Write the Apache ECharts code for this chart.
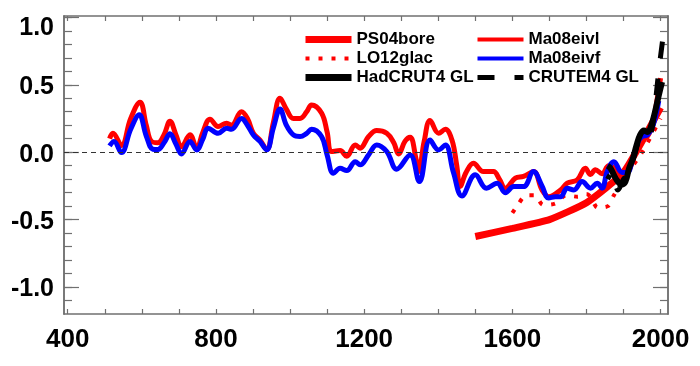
<!DOCTYPE html>
<html>
<head>
<meta charset="utf-8">
<script src="https://cdn.jsdelivr.net/npm/echarts@6/dist/echarts.min.js"></script>
<style>html,body{margin:0;padding:0;background:#fff}#c{width:700px;height:366px}</style>
</head>
<body>
<div id="c"></div>
<script>
// ---- data ----
const ma08eivlYears = [513,522,545,570,595,612,626,643,660,676,692,707,730,748,765,784,806,829,842,869,885,901,919,937,955,973,990,1009,1027,1045,1058,1085,1100,1112,1135,1153,1176,1189,1212,1234,1261,1280,1293,1310,1324,1340,1347,1362,1378,1401,1419,1437,1450,1459,1475,1495,1522,1549,1565,1581,1608,1630,1657,1680,1698,1730,1748,1775,1797,1811,1824,1842,1860,1875,1890,1905,1920,1935,1950,1965,1980,1990,2000];
const ma08eivlVals  = [0.10,0.14,0.05,0.25,0.37,0.20,0.08,0.07,0.13,0.23,0.13,0.04,0.13,0.03,0.15,0.245,0.19,0.215,0.20,0.30,0.25,0.14,0.09,0.02,0.22,0.40,0.32,0.25,0.25,0.30,0.35,0.29,0.15,0.005,0.012,-0.03,0.054,0.03,0.116,0.16,0.14,0.07,-0.013,0.08,0.11,-0.05,-0.144,0.08,0.235,0.14,0.17,0.09,-0.10,-0.255,-0.15,-0.082,-0.144,-0.144,-0.20,-0.267,-0.193,-0.18,-0.144,-0.28,-0.33,-0.28,-0.23,-0.205,-0.12,-0.165,-0.13,-0.16,-0.10,-0.12,-0.20,-0.18,-0.10,0.02,0.10,0.12,0.22,0.38,0.55];

const ma08eivfYears = [513,525,545,570,593,612,630,643,660,676,692,707,730,748,765,779,806,829,842,869,885,901,919,937,955,973,990,1009,1027,1045,1058,1085,1100,1117,1135,1153,1176,1189,1212,1234,1261,1288,1324,1349,1378,1401,1419,1441,1464,1500,1530,1559,1581,1604,1630,1657,1680,1698,1716,1730,1748,1766,1788,1811,1829,1842,1856,1874,1896,1910,1925,1940,1950,1965,1980,1995];
const ma08eivfVals  = [0.047,0.08,-0.003,0.17,0.277,0.12,0.022,0.02,0.07,0.136,0.06,-0.013,0.08,0.017,0.10,0.178,0.14,0.178,0.17,0.25,0.20,0.128,0.08,0.017,0.18,0.32,0.20,0.128,0.116,0.14,0.17,0.116,-0.02,-0.156,-0.119,-0.136,-0.07,-0.094,-0.02,0.054,0.005,-0.126,-0.02,-0.218,0.09,0.017,0.054,-0.15,-0.324,-0.168,-0.267,-0.23,-0.30,-0.255,-0.255,-0.144,-0.25,-0.34,-0.33,-0.33,-0.267,-0.28,-0.218,-0.267,-0.23,-0.267,-0.144,-0.07,-0.15,-0.15,-0.05,0.08,0.116,0.13,0.20,0.38];

const ps04boreYears = [1500,1600,1700,1800,1900,2000];
const ps04boreVals  = [-0.625,-0.565,-0.50,-0.375,-0.15,0.33];

const lo12glacYears = [1600,1615,1637,1660,1683,1716,1745,1776,1800,1811,1830,1858,1874,1900,1950,2000];
const lo12glacVals  = [-0.45,-0.39,-0.32,-0.32,-0.39,-0.38,-0.32,-0.33,-0.31,-0.33,-0.41,-0.40,-0.32,-0.20,0.00,0.25];

const hadcrutYears = [1857,1865,1880,1895,1905,1915,1925,1935,1945,1955,1965,1975,1985,1995,2004];
const hadcrutVals  = [-0.10,-0.12,-0.20,-0.24,-0.22,-0.12,-0.05,0.05,0.13,0.16,0.15,0.20,0.30,0.42,0.52];

// listed from the latest year back, so the dash pattern starts at the recent end
const crutemYears = [2005,1995,1985,1975,1960,1945,1930,1915,1900,1885,1870,1857];
const crutemVals  = [0.82,0.60,0.35,0.15,0.08,0.08,-0.02,-0.15,-0.20,-0.28,-0.15,-0.20];

const xTickValues  = [400,500,600,700,800,900,1000,1100,1200,1300,1400,1500,1600,1700,1800,1900,2000];
const xLabelValues = [400,800,1200,1600,2000];
const yMinorTicks  = [-1.1,-1.0,-0.9,-0.8,-0.7,-0.6,-0.5,-0.4,-0.3,-0.2,-0.1,0,0.1,0.2,0.3,0.4,0.5,0.6,0.7,0.8,0.9,1.0];
const yLabelValues = [-1.0,-0.5,0.0,0.5,1.0];

// ---- chart ----
function pairs(xs, ys){ return xs.map((x,i)=>[x, ys[i]]); }
const FONT = '"Liberation Sans", Arial, Helvetica, sans-serif';
const AX = '#707070';
const chart = echarts.init(document.getElementById('c'), null, {renderer:'canvas'});

function yAx(pos, major){
  return {
    type:'value', position: pos, min:-1.2, max:1.01,
    axisLine:{show:true, onZero:false, lineStyle:{color:AX, width:1.5}},
    splitLine:{show:false},
    axisTick:{show:true, inside:true, length: major?15:8, customValues: major?yLabelValues:yMinorTicks, lineStyle:{color:AX, width:1.2}},
    axisLabel:{show: major && pos==='left', customValues: yLabelValues, margin:10,
      formatter: v => (Math.abs(v-1) < 1e-6 ? '{top|' : '{n|') + v.toFixed(1) + '}',
      rich:{
        n:{fontFamily:FONT, fontWeight:'bold', fontSize:25, color:'#000', padding:[5,0,0,0]},
        top:{fontFamily:FONT, fontWeight:'bold', fontSize:25, color:'#000', padding:[22,0,0,0]}
      }}
  };
}
function xAx(pos){
  return {
    type:'value', position: pos, min:390, max:2020,
    axisLine:{show:true, onZero:false, lineStyle:{color:AX, width:1.5}},
    splitLine:{show:false},
    axisTick:{show:true, inside:true, length:5, customValues:xTickValues, lineStyle:{color:AX, width:1.2}},
    axisLabel:{show: pos==='bottom', customValues:xLabelValues, margin:13, formatter: v => String(v),
      fontFamily:FONT, fontWeight:'bold', fontSize:26, color:'#000'}
  };
}

const legendText = {fontFamily:FONT, fontWeight:'bold', fontSize:17, color:'#000', lineHeight:19};
const hide = {opacity:0, borderWidth:0};

chart.setOption({
  animation:false,
  backgroundColor:'#fff',
  grid:{left:64, right:32, top:16, bottom:52},
  xAxis:[xAx('bottom'), xAx('top')],
  yAxis:[yAx('left',false), yAx('left',true), yAx('right',false), yAx('right',true)],
  legend:[
    {left:297, top:25, padding:5, orient:'vertical', itemWidth:46, itemHeight:8, itemGap:0, textStyle:legendText,
     data:[
       {name:'PS04bore', itemStyle:hide, lineStyle:{width:7, color:'#ff0000', type:'solid'}},
       {name:'LO12glac', itemStyle:hide, lineStyle:{width:4, color:'#ff0000', type:[4,9]}},
       {name:'HadCRUT4 GL', itemStyle:hide, lineStyle:{width:7, color:'#000', type:'solid'}}
     ]},
    {left:470, top:25, padding:5, orient:'vertical', itemWidth:46, itemHeight:8, itemGap:0, textStyle:legendText,
     data:[
       {name:'Ma08eivl', itemStyle:hide, lineStyle:{width:4, color:'#ff0000', type:'solid'}},
       {name:'Ma08eivf', itemStyle:hide, lineStyle:{width:4, color:'#0000ff', type:'solid'}},
       {name:'CRUTEM4 GL', itemStyle:hide, lineStyle:{width:5, color:'#000', type:[17,20]}}
     ]}
  ],
  series:[
    {name:'PS04bore', type:'line', data:pairs(ps04boreYears, ps04boreVals), symbol:'none',
     smooth:0.15, lineStyle:{color:'#ff0000', width:7}, itemStyle:{color:'#ff0000'}, z:2,
     markLine:{silent:true, symbol:'none', label:{show:false},
       lineStyle:{color:'#333', width:1, type:[5,4]}, data:[{yAxis:0}]}},
    {name:'LO12glac', type:'line', data:pairs(lo12glacYears, lo12glacVals), symbol:'none',
     smooth:0.3, lineStyle:{color:'#ff0000', width:4, type:[4,9], cap:'butt'}, itemStyle:{color:'#ff0000'}, z:2},
    {name:'Ma08eivl', type:'line', data:pairs(ma08eivlYears, ma08eivlVals), symbol:'none',
     smooth:0.4, lineStyle:{color:'#ff0000', width:5}, itemStyle:{color:'#ff0000'}, z:3},
    {name:'Ma08eivf', type:'line', data:pairs(ma08eivfYears, ma08eivfVals), symbol:'none',
     smooth:0.4, lineStyle:{color:'#0000ff', width:5}, itemStyle:{color:'#0000ff'}, z:4},
    {name:'CRUTEM4 GL', type:'line', data:pairs(crutemYears, crutemVals), symbol:'none',
     smooth:0.4, lineStyle:{color:'#000', width:5, type:[17,20]}, itemStyle:{color:'#000'}, z:5},
    {name:'HadCRUT4 GL', type:'line', data:pairs(hadcrutYears, hadcrutVals), symbol:'none',
     smooth:0.4, lineStyle:{color:'#000', width:6}, itemStyle:{color:'#000'}, z:6}
  ]
});
</script>
</body>
</html>
